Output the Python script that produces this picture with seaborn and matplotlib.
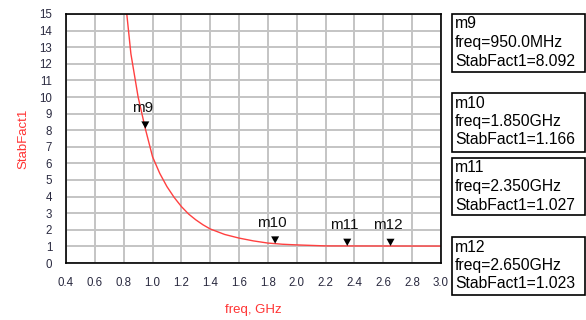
import matplotlib
matplotlib.use("Agg")
import matplotlib.pyplot as plt
from matplotlib.patches import Rectangle
from matplotlib.path import Path
import seaborn as sns
import pandas as pd

# ---- data ----
freq = [0.80, 0.85, 0.90, 0.95, 1.00, 1.05, 1.10, 1.15, 1.20, 1.25, 1.30, 1.35,
        1.40, 1.50, 1.60, 1.70, 1.80, 1.85, 1.90, 2.00, 2.10, 2.20, 2.35, 2.65, 3.00]
stab = [16.8, 12.6, 10.0, 8.092, 6.4, 5.4, 4.6, 3.95, 3.4, 2.95, 2.6, 2.3,
        2.05, 1.72, 1.5, 1.33, 1.2, 1.166, 1.13, 1.09, 1.06, 1.03, 1.027, 1.023, 1.02]

marker_names = ["m9", "m10", "m11", "m12"]
marker_freq = [0.95, 1.85, 2.35, 2.65]
marker_val = [8.092, 1.166, 1.027, 1.023]
marker_freq_text = ["950.0MHz", "1.850GHz", "2.350GHz", "2.650GHz"]

x_ticks = [0.4, 0.6, 0.8, 1.0, 1.2, 1.4, 1.6, 1.8, 2.0, 2.2, 2.4, 2.6, 2.8, 3.0]
y_ticks = list(range(0, 16))

df = pd.DataFrame({"freq": freq, "StabFact1": stab})
mk = pd.DataFrame({"freq": marker_freq, "StabFact1": marker_val, "name": marker_names})

sns.set_style("white")
plt.rcParams["font.family"] = ["Liberation Sans", "DejaVu Sans"]

W, H = 586, 320
fig = plt.figure(figsize=(W / 100, H / 100), dpi=100)
ax = fig.add_axes([66 / W, 1 - 263 / H, (441 - 66) / W, (263 - 14) / H])

sns.lineplot(data=df, x="freq", y="StabFact1", ax=ax, color="#ff4040", lw=1.0)

# downward triangle with its tip on the data point
tri = Path([(-0.55, 1.0), (0.55, 1.0), (0.0, 0.0), (-0.55, 1.0)],
           [Path.MOVETO, Path.LINETO, Path.LINETO, Path.CLOSEPOLY])
sns.scatterplot(data=mk, x="freq", y="StabFact1", ax=ax, marker=tri, s=110,
                color="black", edgecolor="none", zorder=5)
for n, fx, fy in zip(marker_names, marker_freq, marker_val):
    ax.annotate(n, (fx, fy), xytext=(-2, 10), textcoords="offset points",
                ha="center", va="bottom", fontsize=11, color="#111111")

ax.set_xlim(0.4, 3.0)
ax.set_ylim(0, 15)
ax.set_xticks(x_ticks)
ax.set_xticklabels([f"{v:.1f}" for v in x_ticks])
ax.set_yticks(y_ticks)
ax.set_xticks([v / 10 for v in range(5, 30, 2)], minor=True)
ax.set_yticks([v + 0.5 for v in range(0, 15)], minor=True)
ax.grid(True, which="major", color="#c4c4c4", lw=1.4)
ax.set_axisbelow(True)
for s in ax.spines.values():
    s.set_color("black")
    s.set_linewidth(1.2)
ax.tick_params(axis="both", which="major", direction="out", length=8, width=1.2,
               color="black", labelsize=8.3, labelcolor="#2a2a40", pad=2)
ax.tick_params(axis="both", which="minor", direction="out", length=4, width=1.2,
               color="black")
ax.tick_params(axis="x", which="major", length=7, pad=3)

ax.set_xlabel("freq, GHz", color="#ff3333", fontsize=9.5, labelpad=11)
ax.set_ylabel("StabFact1", color="#ff3333", fontsize=9.5, labelpad=7)

# marker readout boxes
boxes = [(14, 72), (93, 152), (158, 215), (237, 295)]
for (top, bot), n, ft, v in zip(boxes, marker_names, marker_freq_text, marker_val):
    fig.patches.append(Rectangle((452 / W, 1 - bot / H), (585 - 452) / W, (bot - top) / H,
                                 transform=fig.transFigure, fill=False,
                                 edgecolor="black", lw=1.2))
    lines = [n, f"freq={ft}", f"StabFact1={v:.3f}"]
    for i, t in enumerate(lines):
        yc = top + 10 + i * 18.5
        fig.text(455 / W, 1 - yc / H, t, ha="left", va="center", fontsize=11.3,
                 color="black")

fig.savefig("out.png", dpi=100)
